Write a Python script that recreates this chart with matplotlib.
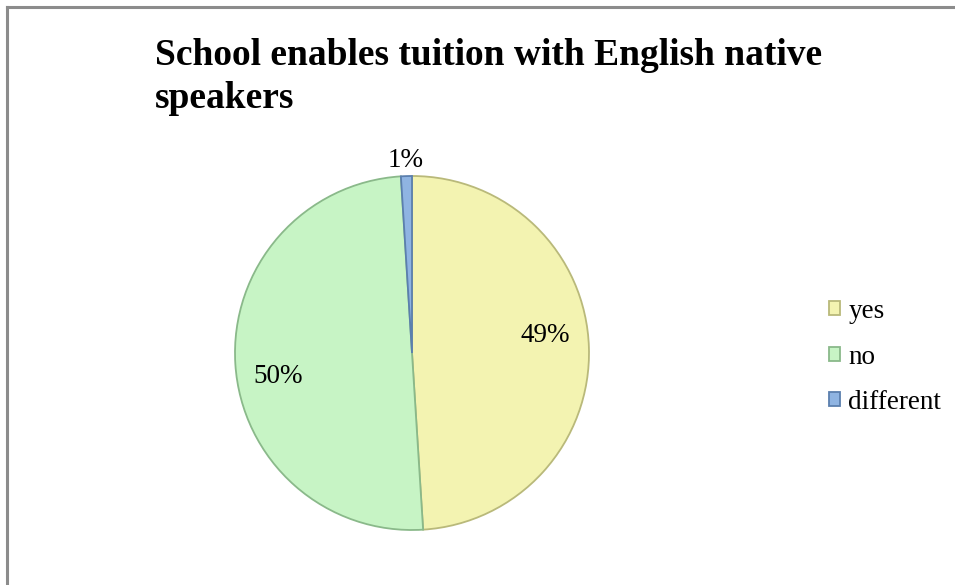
import numpy as np
import matplotlib
matplotlib.use("Agg")
import matplotlib.pyplot as plt
from matplotlib.patches import Patch
from matplotlib.lines import Line2D

plt.rcParams["font.family"] = ["Liberation Serif", "DejaVu Serif"]

labels = ["yes", "no", "different"]
shares = [49, 50, 1]
fill_colors = ["#F3F3B1", "#C7F4C5", "#8FB4E2"]
edge_colors = ["#B9B97A", "#8AB98A", "#5B7FAE"]
# label placement: distance from centre (radius units) and nudge of the angle (deg)
label_dist = [0.76, 0.77, 1.09]
label_nudge = [5.5, 6.5, 0.0]

fig = plt.figure(figsize=(9.55, 5.85), dpi=100)

# outer frame (left and top edges only)
fig.add_artist(Line2D([7 / 955, 7 / 955], [0, 1 - 7 / 585], color="#8C8C8C", lw=2.2,
                      transform=fig.transFigure))
fig.add_artist(Line2D([7 / 955, 1], [1 - 7 / 585, 1 - 7 / 585], color="#8C8C8C", lw=2.2,
                      transform=fig.transFigure))

cx, cy, r = 412, 353, 177
ax = fig.add_axes([(cx - r) / 955, (585 - cy - r) / 585, 2 * r / 955, 2 * r / 585])
wedges, _ = ax.pie(shares, colors=fill_colors, startangle=90, counterclock=False,
                   wedgeprops=dict(linewidth=1.3, clip_on=False))
for w, ec in zip(wedges, edge_colors):
    w.set_edgecolor(ec)
ax.set_xlim(-1, 1)
ax.set_ylim(-1, 1)
ax.set_aspect("equal")
ax.axis("off")

# percentage labels near each wedge's mid angle
total = sum(shares)
start = 90.0
for val, d, nudge in zip(shares, label_dist, label_nudge):
    sweep = 360.0 * val / total
    mid = np.deg2rad(start - sweep / 2 + nudge)
    ax.text(d * np.cos(mid), d * np.sin(mid), f"{val}%", ha="center", va="center",
            fontsize=19.5)
    start -= sweep

fig.text(155 / 955, 1 - 38 / 585, "School enables tuition with English native\nspeakers",
         fontsize=27, fontweight="bold", ha="left", va="top", linespacing=1.3)

handles = [Patch(facecolor=f, edgecolor=e, lw=1.3) for f, e in zip(fill_colors, edge_colors)]
fig.legend(handles, labels, loc="center left", bbox_to_anchor=(818 / 955, 1 - 357 / 585),
           frameon=False, fontsize=19.5, handlelength=0.42, handleheight=0.42,
           handletextpad=0.3, labelspacing=0.76, borderaxespad=0)

fig.savefig("out.png", dpi=100)
